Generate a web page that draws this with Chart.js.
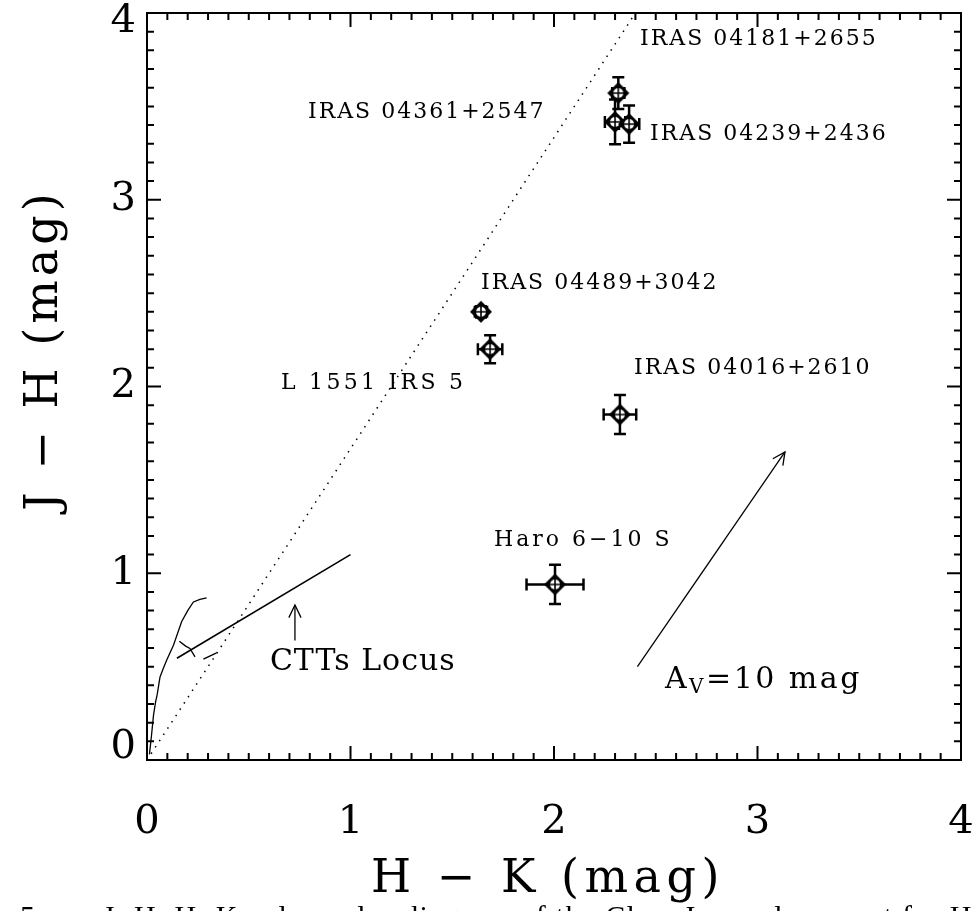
<!DOCTYPE html>
<html>
<head>
<meta charset="utf-8">
<script src="https://cdn.jsdelivr.net/npm/chart.js@4.4.0/dist/chart.umd.min.js"></script>
<style>
  html, body { margin: 0; padding: 0; background: #fff; }
  canvas { display: block; }
</style>
</head>
<body>
<canvas id="ccd" width="978" height="911"></canvas>
<script>
// Class I sources: H-K, J-H and their errors
const sourceNames = ['IRAS 04181+2655', 'IRAS 04361+2547', 'IRAS 04239+2436', 'IRAS 04489+3042', 'L 1551 IRS 5', 'IRAS 04016+2610', 'Haro 6\u221210 S'];
const hk    = [2.316, 2.300, 2.369, 1.641, 1.686, 2.324, 2.005];
const jh    = [3.571, 3.417, 3.405, 2.400, 2.200, 1.850, 0.940];
const hkErr = [0.03, 0.05, 0.05, 0.03, 0.06, 0.08, 0.14];
const jhErr = [0.085, 0.12, 0.10, 0.03, 0.075, 0.105, 0.105];

// main sequence / giant loci
const dwarfHK = [0.012, 0.022, 0.032, 0.042, 0.050, 0.064, 0.080, 0.097, 0.130, 0.170, 0.200, 0.228, 0.260, 0.293];
const dwarfJH = [0.030, 0.130, 0.240, 0.310, 0.350, 0.445, 0.490, 0.535, 0.615, 0.740, 0.800, 0.846, 0.860, 0.868];
const giantHK = [0.159, 0.190, 0.211, 0.236, 0.256, 0.277, 0.342];
const giantJH = [0.636, 0.610, 0.597, 0.552, null, 0.540, 0.574];

// CTTs locus, reddening line, A_V vector, pointer arrow
const cttsHK = [0.147, 1.0];
const cttsJH = [0.545, 1.10];
const reddenHK = [0, 2.40];
const reddenJH = [0, 4.0];
const avHK = [2.41, 3.135];
const avJH = [0.50, 1.65];
const pointerHK = [0.727, 0.727];
const pointerJH = [0.64, 0.83];

// axis ticks
const tickLabels = [0, 1, 2, 3, 4];

// text annotations, anchored in data units (left edge, middle)
const notes = [
  { text: 'IRAS 04181+2655', x: 2.423, y: 3.861 },
  { text: 'IRAS 04361+2547', x: 0.791, y: 3.471 },
  { text: 'IRAS 04239+2436', x: 2.472, y: 3.353 },
  { text: 'IRAS 04489+3042', x: 1.641, y: 2.551 },
  { text: 'L 1551 IRS 5',    x: 0.658, y: 2.016, sp: '3.3px' },
  { text: 'IRAS 04016+2610', x: 2.393, y: 2.096 },
  { text: 'Haro 6\u221210 S', x: 1.705, y: 1.176, sp: '3px' }
];

const FONT = '"DejaVu Serif", serif';

const pts = (xs, ys) => xs.map((v, i) => ({ x: v, y: ys[i] }));

// diamond with a circled plus inside
function makeSymbol() {
  const c = document.createElement('canvas');
  c.width = 26; c.height = 26;
  const g = c.getContext('2d');
  g.fillStyle = '#000';
  g.beginPath();
  g.moveTo(13, 2); g.lineTo(24, 13); g.lineTo(13, 24); g.lineTo(2, 13);
  g.closePath();
  g.fill();
  g.fillStyle = '#fff';
  g.beginPath();
  g.arc(13, 13, 5, 0, Math.PI * 2);
  g.fill();
  g.strokeStyle = '#000';
  g.lineWidth = 1.6;
  g.beginPath();
  g.moveTo(8, 13); g.lineTo(18, 13);
  g.moveTo(13, 8); g.lineTo(13, 18);
  g.stroke();
  return c;
}

function arrowHead(ctx, x0, y0, x1, y1, len) {
  const a = Math.atan2(y1 - y0, x1 - x0);
  ctx.beginPath();
  ctx.moveTo(x1 - len * Math.cos(a - 0.45), y1 - len * Math.sin(a - 0.45));
  ctx.lineTo(x1, y1);
  ctx.lineTo(x1 - len * Math.cos(a + 0.45), y1 - len * Math.sin(a + 0.45));
  ctx.stroke();
}

const errorBars = {
  id: 'errorBars',
  beforeDatasetsDraw(chart) {
    const { ctx, scales: { x, y } } = chart;
    ctx.save();
    ctx.strokeStyle = '#000';
    ctx.lineWidth = 2.5;
    const cap = 6;
    hk.forEach((v, i) => {
      const px = x.getPixelForValue(v), py = y.getPixelForValue(jh[i]);
      const xl = x.getPixelForValue(v - hkErr[i]), xr = x.getPixelForValue(v + hkErr[i]);
      const yt = y.getPixelForValue(jh[i] + jhErr[i]), yb = y.getPixelForValue(jh[i] - jhErr[i]);
      ctx.beginPath();
      ctx.moveTo(xl, py); ctx.lineTo(xr, py);
      ctx.moveTo(xl, py - cap); ctx.lineTo(xl, py + cap);
      ctx.moveTo(xr, py - cap); ctx.lineTo(xr, py + cap);
      ctx.moveTo(px, yt); ctx.lineTo(px, yb);
      ctx.moveTo(px - cap, yt); ctx.lineTo(px + cap, yt);
      ctx.moveTo(px - cap, yb); ctx.lineTo(px + cap, yb);
      ctx.stroke();
    });
    ctx.restore();
  }
};

const frame = {
  id: 'frame',
  afterDraw(chart) {
    const { ctx, chartArea: a, scales: { x, y } } = chart;
    ctx.save();
    ctx.strokeStyle = '#000';
    ctx.fillStyle = '#000';
    ctx.lineWidth = 2;
    ctx.strokeRect(a.left, a.top, a.right - a.left, a.bottom - a.top);
    for (let i = 0; i <= 40; i++) {
      const v = i / 10;
      const len = i % 10 === 0 ? 14 : 7;
      const px = x.getPixelForValue(v), py = y.getPixelForValue(v);
      ctx.beginPath();
      ctx.moveTo(px, a.bottom); ctx.lineTo(px, a.bottom - len);
      ctx.moveTo(px, a.top); ctx.lineTo(px, a.top + len);
      ctx.moveTo(a.left, py); ctx.lineTo(a.left + len, py);
      ctx.moveTo(a.right, py); ctx.lineTo(a.right - len, py);
      ctx.stroke();
    }

    // tick labels
    ctx.font = '40px ' + FONT;
    ctx.textBaseline = 'middle';
    ctx.textAlign = 'center';
    tickLabels.forEach(v => ctx.fillText(String(v), x.getPixelForValue(v), 823));
    ctx.textAlign = 'right';
    tickLabels.forEach(v => {
      const py = Math.min(748, Math.max(22, y.getPixelForValue(v)));
      ctx.fillText(String(v), 136, py);
    });

    // axis titles
    ctx.font = '46px ' + FONT;
    ctx.textAlign = 'center';
    ctx.letterSpacing = '5.5px';
    ctx.fillText('H \u2212 K (mag)', 548, 880);
    ctx.save();
    ctx.translate(45, 350);
    ctx.rotate(-Math.PI / 2);
    ctx.letterSpacing = '4px';
    ctx.fillText('J \u2212 H (mag)', 0, 0);
    ctx.restore();

    // source labels
    ctx.font = '22px ' + FONT;
    ctx.textAlign = 'left';
    notes.forEach(n => {
      ctx.letterSpacing = n.sp || '2px';
      ctx.fillText(n.text, x.getPixelForValue(n.x), y.getPixelForValue(n.y));
    });

    // CTTs Locus and A_V labels
    ctx.font = '30px ' + FONT;
    ctx.letterSpacing = '1px';
    ctx.fillText('CTTs Locus', x.getPixelForValue(0.604), y.getPixelForValue(0.524));
    ctx.letterSpacing = '2.5px';
    let ax = x.getPixelForValue(2.545), ay = y.getPixelForValue(0.428);
    ctx.fillText('A', ax, ay);
    ax += ctx.measureText('A').width;
    ctx.font = '20px ' + FONT;
    ctx.fillText('V', ax, ay + 8);
    ax += ctx.measureText('V').width;
    ctx.font = '30px ' + FONT;
    ctx.fillText('=10 mag', ax, ay);

    // arrowheads
    ctx.lineWidth = 1.3;
    arrowHead(ctx, x.getPixelForValue(avHK[0]), y.getPixelForValue(avJH[0]),
      x.getPixelForValue(avHK[1]), y.getPixelForValue(avJH[1]), 14);
    arrowHead(ctx, x.getPixelForValue(pointerHK[0]), y.getPixelForValue(pointerJH[0]),
      x.getPixelForValue(pointerHK[1]), y.getPixelForValue(pointerJH[1]), 14);

    // clipped caption line at the bottom of the page
    ctx.letterSpacing = '1.3px';
    ctx.font = '30px "Liberation Serif", serif';
    ctx.textBaseline = 'alphabetic';
    ctx.fillText('5. \u2014  J\u2212H, H\u2212K color-color diagram of the Class I sample except for H', 20, 926);
    ctx.restore();
  }
};

const line = (xs, ys, opts) => Object.assign({
  type: 'line', data: pts(xs, ys), borderColor: '#000', borderWidth: 1.3,
  pointRadius: 0, fill: false, tension: 0, spanGaps: false
}, opts);

new Chart(document.getElementById('ccd'), {
  type: 'scatter',
  data: {
    datasets: [
      line(reddenHK, reddenJH, { borderDash: [1.5, 6], borderWidth: 1.5 }),
      line(dwarfHK, dwarfJH, {}),
      line(giantHK, giantJH, {}),
      line(cttsHK, cttsJH, { borderWidth: 1.6 }),
      line(avHK, avJH, {}),
      line(pointerHK, pointerJH, {}),
      {
        label: 'Class I sources',
        data: pts(hk, jh),
        pointStyle: makeSymbol(),
        pointRadius: 12,
        pointHoverRadius: 12
      }
    ]
  },
  options: {
    responsive: false,
    animation: false,
    layout: { padding: { left: 147, right: 17, top: 12, bottom: 151 } },
    scales: {
      x: { type: 'linear', min: 0, max: 4, display: false },
      y: { type: 'linear', min: 0, max: 4, display: false }
    },
    plugins: { legend: { display: false }, tooltip: { enabled: false } }
  },
  plugins: [errorBars, frame]
});
</script>
</body>
</html>
